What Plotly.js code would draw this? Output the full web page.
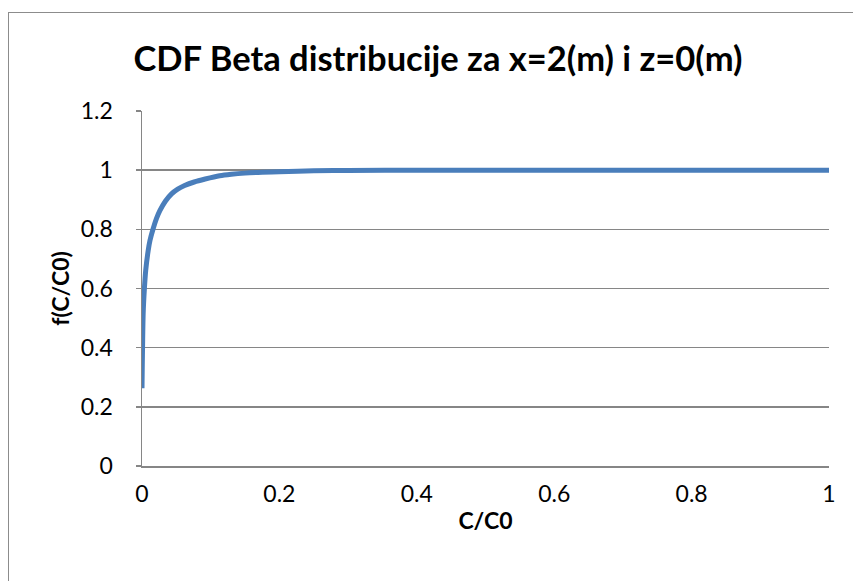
<!DOCTYPE html>
<html>
<head>
<meta charset="utf-8">
<script src="https://cdn.plot.ly/plotly-3.0.1.min.js"></script>
<style>
html,body{margin:0;padding:0;background:#fff;overflow:hidden;}
#frame{position:absolute;left:8px;top:12px;width:900px;height:620px;border:1.5px solid #8c8c8c;box-sizing:border-box;pointer-events:none;z-index:5;}
#chart{position:absolute;left:0;top:0;width:853px;height:581px;}
</style>
</head>
<body>
<div id="chart"></div>
<div id="frame"></div>
<script>
const chartTitle = "CDF Beta distribucije za x=2(m) i z=0(m)";
const xTitle = "C/C0";
const yTitle = "f(C/C0)";
const xTickVals = [0, 0.2, 0.4, 0.6, 0.8, 1];
const xTickText = ["0", "0.2", "0.4", "0.6", "0.8", "1"];
const yTickVals = [0, 0.2, 0.4, 0.6, 0.8, 1, 1.2];
const yTickText = ["0", "0.2", "0.4", "0.6", "0.8", "1", "1.2"];

const cRatio = [0, 0.0004, 0.0008, 0.0017, 0.0035, 0.0054, 0.009, 0.0116, 0.016, 0.021, 0.026, 0.034, 0.043, 0.052, 0.062, 0.076, 0.092, 0.113, 0.13, 0.15, 0.175, 0.2, 0.25, 0.3, 0.4, 0.5, 0.6, 0.7, 0.8, 0.9, 1.0];
const cdf    = [0.263, 0.34, 0.40, 0.516, 0.60, 0.661, 0.728, 0.762, 0.80, 0.836, 0.863, 0.895, 0.92, 0.936, 0.948, 0.960, 0.970, 0.981, 0.986, 0.990, 0.993, 0.995, 0.998, 0.999, 1, 1, 1, 1, 1, 1, 1];

const trace = {
  x: cRatio, y: cdf, type: "scatter", mode: "lines",
  line: {color: "#4A7EBB", width: 5, shape: "spline", smoothing: 0.8},
  hoverinfo: "x+y"
};

const layout = {
  width: 853, height: 581,
  margin: {l: 142, r: 24, t: 111, b: 115},
  paper_bgcolor: "#ffffff", plot_bgcolor: "#ffffff",
  showlegend: false,
  font: {family: "Lato, 'Liberation Sans', sans-serif", color: "#000"},
  title: {text: chartTitle, x: 438/853, xanchor: "center", y: 1 - 59/581, yanchor: "middle",
          font: {size: 34.5, family: "Lato, sans-serif", weight: 700, color: "#000"}},
  xaxis: {
    range: [0, 1], tickvals: xTickVals, ticktext: xTickText,
    showgrid: false, zeroline: false, showline: true, linecolor: "#868686", linewidth: 1.5,
    ticks: "", tickfont: {size: 23, color: "#000"}, ticklabelstandoff: 7,
    title: {text: xTitle, font: {size: 23, weight: 700, color: "#000"}, standoff: 7}
  },
  yaxis: {
    range: [0, 1.2], tickvals: yTickVals, ticktext: yTickText,
    showgrid: true, gridcolor: "#868686", gridwidth: 1.5,
    zeroline: false, showline: true, linecolor: "#868686", linewidth: 1.5,
    ticks: "outside", ticklen: 5, tickcolor: "#868686", tickwidth: 1.5,
    tickfont: {size: 23, color: "#000"}, ticklabelstandoff: 18,
    title: {text: yTitle, font: {size: 23, weight: 700, color: "#000"}, standoff: 4}
  }
};

Plotly.newPlot("chart", [trace], layout, {displayModeBar: false, staticPlot: true});
</script>
</body>
</html>
